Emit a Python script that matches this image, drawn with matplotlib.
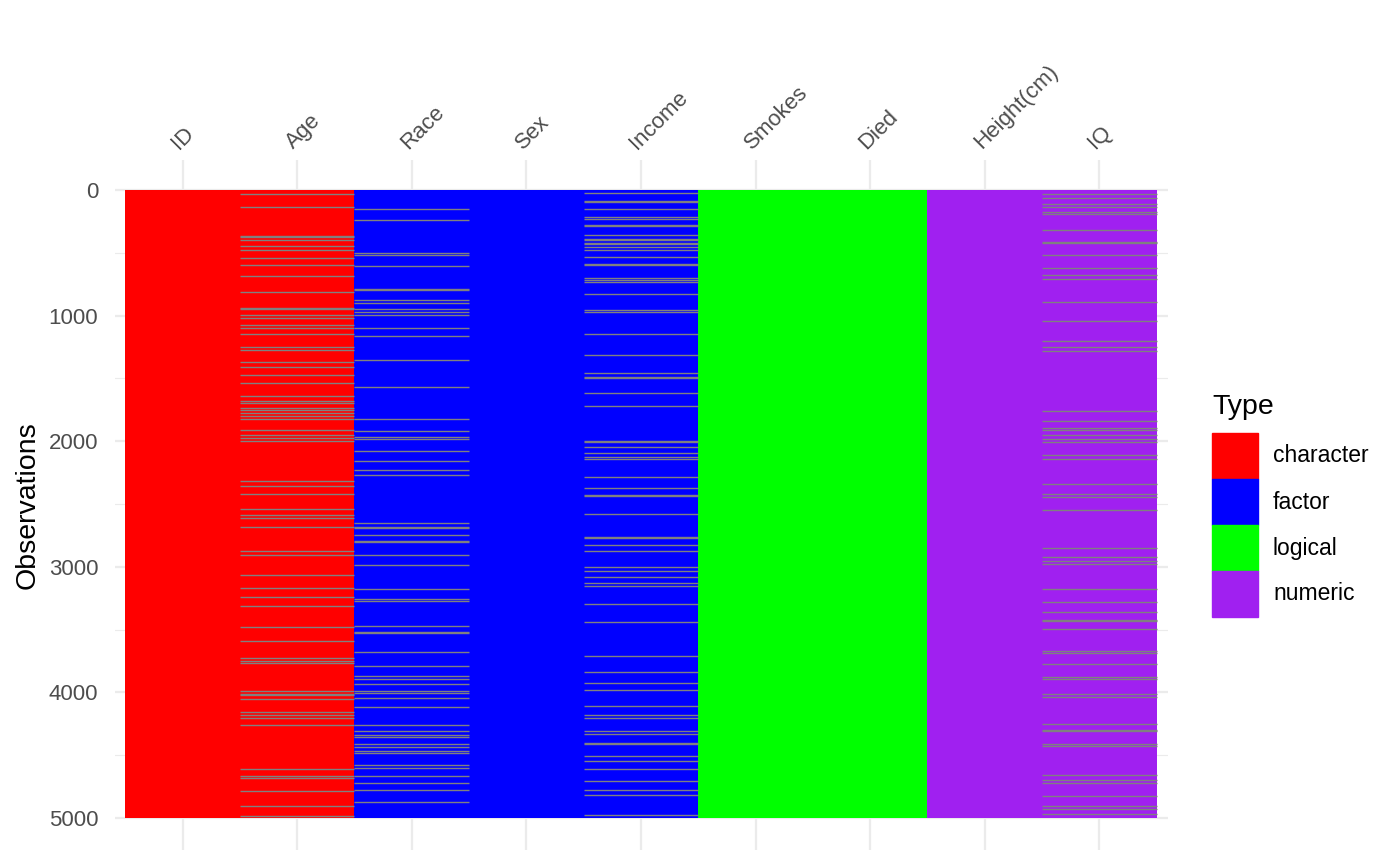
import matplotlib.pyplot as plt
from matplotlib.patches import Rectangle

plt.rcParams['font.family'] = ['Liberation Sans', 'DejaVu Sans']

# Spalten und Typen
columns = ['ID', 'Age', 'Race', 'Sex', 'Income', 'Smokes', 'Died', 'Height(cm)', 'IQ']
col_types = ['character', 'character', 'factor', 'factor', 'factor',
             'logical', 'logical', 'numeric', 'numeric']
n_obs = 5000

type_names = ['character', 'factor', 'logical', 'numeric']
type_colors = ['#FF0000', '#0000FF', '#00FF00', '#A020F0']
na_color = '#808080'

# fehlende Zeilen, pro Spalte
missing = {
    'Age': [34, 138, 364, 372, 400, 448, 480, 544, 600, 685, 814, 939, 947, 995, 1022, 1077,
            1101, 1149, 1252, 1276, 1369, 1412, 1475, 1534, 1638, 1682, 1696, 1738, 1754,
            1775, 1802, 1826, 1913, 1953, 1977, 1998, 2315, 2357, 2423, 2537, 2590, 2614,
            2686, 2874, 2909, 3068, 3172, 3243, 3315, 3482, 3591, 3729, 3750, 3766, 3989,
            4011, 4019, 4055, 4159, 4180, 4207, 4262, 4612, 4668, 4684, 4787, 4907, 4987],
    'Race': [154, 239, 499, 520, 608, 786, 799, 878, 902, 945, 969, 998, 1101, 1165, 1356,
             1571, 1826, 1919, 1969, 1983, 2080, 2160, 2232, 2269, 2654, 2681, 2689, 2749,
             2797, 2805, 2909, 2988, 3177, 3256, 3272, 3474, 3517, 3525, 3681, 3792, 3872,
             3893, 3936, 3991, 4007, 4047, 4119, 4260, 4310, 4339, 4358, 4413, 4437, 4467,
             4485, 4581, 4605, 4668, 4724, 4780, 4875],
    'Income': [26, 85, 93, 154, 210, 226, 276, 284, 361, 393, 401, 420, 428, 454, 480, 536,
               587, 595, 703, 719, 735, 830, 958, 974, 1149, 1316, 1460, 1486, 1494, 1619,
               1722, 1996, 2004, 2049, 2096, 2126, 2144, 2288, 2375, 2426, 2434, 2582, 2763,
               2771, 2829, 2877, 3004, 3036, 3084, 3127, 3155, 3299, 3440, 3713, 3840, 3928,
               3984, 4108, 4183, 4207, 4310, 4331, 4400, 4408, 4509, 4549, 4612, 4708, 4780,
               4819, 4979],
    'IQ': [27, 59, 114, 135, 175, 194, 321, 414, 422, 520, 624, 679, 711, 894, 1046, 1205,
           1252, 1284, 1760, 1839, 1898, 1913, 1953, 1985, 2009, 2113, 2144, 2343, 2423,
           2447, 2550, 2853, 2925, 2956, 2980, 3179, 3283, 3362, 3421, 3429, 3498, 3673,
           3689, 3776, 3880, 3896, 4015, 4039, 4254, 4299, 4307, 4413, 4429, 4660, 4700,
           4724, 4827, 4907, 4931, 4971],
}

fig = plt.figure(figsize=(14, 8.65), dpi=100)
ax = fig.add_axes([115 / 1400, 1 - 850 / 865, (1168 - 115) / 1400, (850 - 160) / 865])

color_of = dict(zip(type_names, type_colors))
for i, (col, t) in enumerate(zip(columns, col_types)):
    ax.bar(i, n_obs, bottom=0, width=1.0, color=color_of[t], zorder=2)
    rows = missing.get(col, [])
    if rows:
        ax.hlines(rows, i - 0.5, i + 0.5, colors=na_color, linewidth=1.0, zorder=3)

ax.set_xlim(-0.59, 8.6)
ax.set_ylim(5255, -240)

ax.set_xticks(range(len(columns)))
ax.set_xticklabels(columns, rotation=45, ha='left', va='bottom', rotation_mode='anchor')
ax.xaxis.tick_top()
ax.set_yticks([0, 1000, 2000, 3000, 4000, 5000])
ax.set_yticks([500, 1500, 2500, 3500, 4500], minor=True)
ax.tick_params(axis='both', which='both', length=0, labelsize=16, labelcolor='#4D4D4D')
ax.tick_params(axis='x', pad=5)
ax.tick_params(axis='y', pad=12)
ax.grid(True, which='major', color='#EBEBEB', linewidth=1.6, zorder=0)
ax.grid(True, which='minor', axis='y', color='#EBEBEB', linewidth=0.8, zorder=0)
ax.set_axisbelow(True)
for s in ax.spines.values():
    s.set_visible(False)
ax.set_ylabel('Observations', fontsize=20.5, labelpad=6)

# Legende
W, H = 1400, 865
fig.text(1212 / W, 1 - 407 / H, 'Type', fontsize=20.5, va='center', ha='left')
for k, (name, c) in enumerate(zip(type_names, type_colors)):
    top = 433 + k * 46
    fig.add_artist(Rectangle((1212 / W, 1 - (top + 46) / H), 46 / W, 46 / H,
                             transform=fig.transFigure, color=c))
    fig.text(1273 / W, 1 - (top + 23) / H, name, fontsize=16.5, va='center', ha='left')

fig.savefig('out.png', dpi=100)
